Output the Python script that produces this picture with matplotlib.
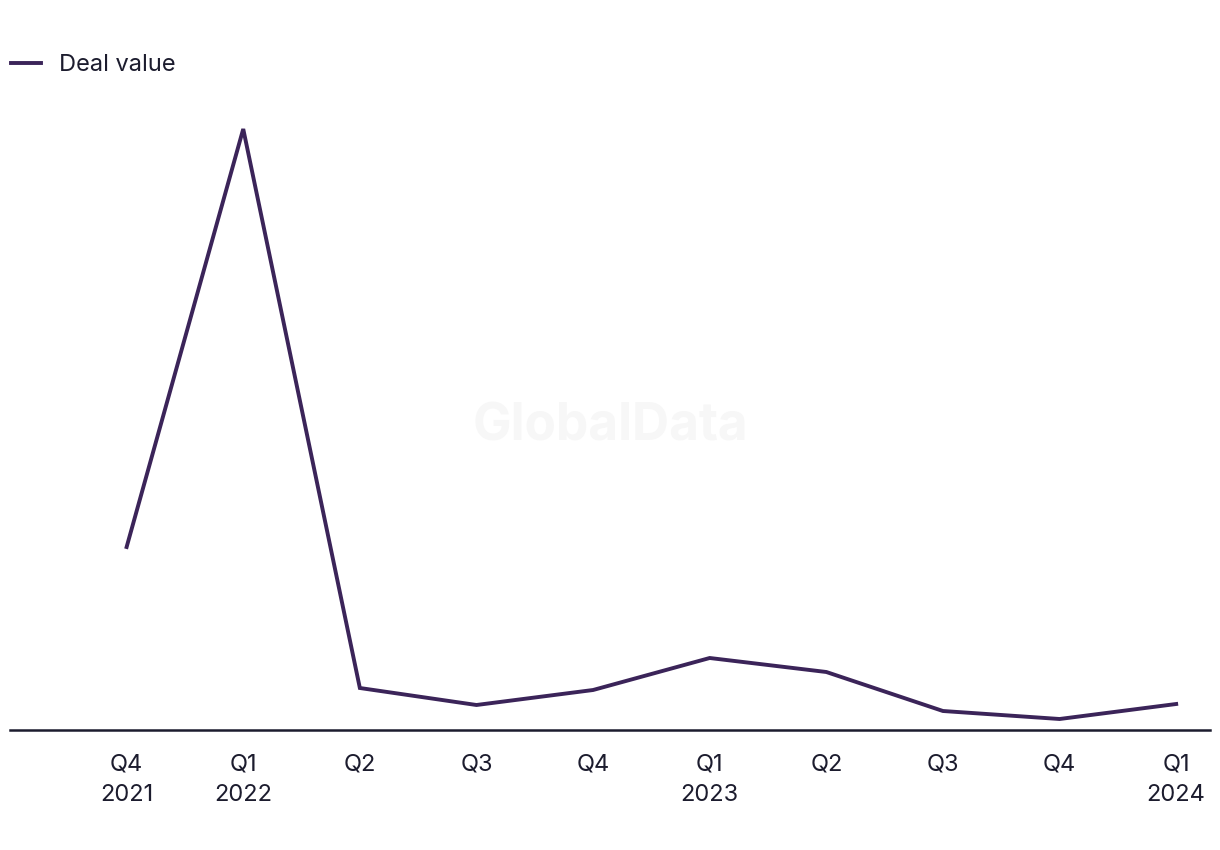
import matplotlib.pyplot as plt

quarters = ["Q4\n2021", "Q1\n2022", "Q2", "Q3", "Q4", "Q1\n2023", "Q2", "Q3", "Q4", "Q1\n2024"]
deal_value = [183, 601, 42, 25, 40, 72, 58, 19, 11, 26]

LINE_COLOR = "#3b2459"
TEXT_COLOR = "#1c1c2e"

plt.rcParams['font.family'] = ['Inter', 'DejaVu Sans']

fig = plt.figure(figsize=(12.2, 8.5), dpi=100)
ax = fig.add_axes([10 / 1220, 1 - 730 / 850, 1200 / 1220, 630 / 850])

x = list(range(len(quarters)))
ax.plot(x, deal_value, color=LINE_COLOR, lw=2.8, label="Deal value", solid_joinstyle='miter')

ax.set_xlim(-1.0, 9.29)
ax.set_ylim(0, 630)
ax.set_xticks(x)
ax.set_xticklabels(quarters, fontsize=17, color=TEXT_COLOR, linespacing=1.5)
ax.tick_params(axis='x', length=0, pad=17)
ax.set_yticks([])

for side in ['top', 'right', 'left']:
    ax.spines[side].set_visible(False)
ax.spines['bottom'].set_color(TEXT_COLOR)
ax.spines['bottom'].set_linewidth(1.8)

# watermark
fig.text(610 / 1220, 1 - 427 / 850, "GlobalData", fontsize=37, fontweight='bold',
         color="#f7f7f7", ha='center', va='center', zorder=0)

leg = ax.legend(loc='upper left', bbox_to_anchor=(11 / 1220, 1 - 54 / 850), bbox_transform=fig.transFigure,
                frameon=False, fontsize=17, handlelength=1.25, borderaxespad=0, borderpad=0,
                handletextpad=0.8)
for t in leg.get_texts():
    t.set_color(TEXT_COLOR)

fig.savefig("out.png", dpi=100)
